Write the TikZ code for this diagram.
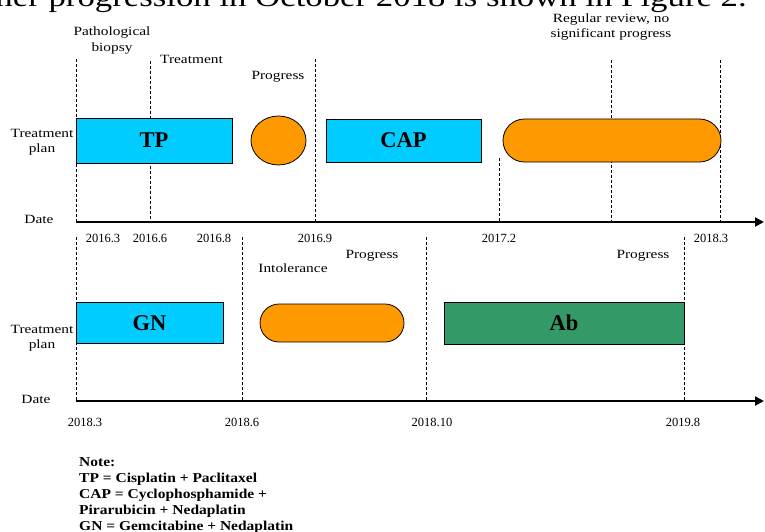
\documentclass[tikz,border=0pt]{standalone}
\usepackage{fontspec}
\setmainfont{Liberation Serif}
\newfontfamily\wideserif[FakeStretch=1.22]{Liberation Serif}
\newfontfamily\noteserif[FakeStretch=1.14]{Liberation Serif}
\usetikzlibrary{arrows.meta,shapes.geometric}
\definecolor{planblue}{HTML}{00CCFF}
\definecolor{planorange}{HTML}{FF9900}
\definecolor{plangreen}{HTML}{339966}
\begin{document}
\begin{tikzpicture}[x=1pt,y=-1pt,
	lbl/.style={inner sep=0pt,align=center,font=\wideserif\fontsize{12.6}{15.5}\selectfont},
	datelbl/.style={inner sep=0pt,anchor=base,font=\fontsize{12.5}{14}\selectfont},
	notelbl/.style={inner sep=0pt,anchor=base west,font=\noteserif\bfseries\fontsize{13.6}{16}\selectfont},
	plan/.style={draw,line width=0.8pt,inner sep=0pt,font=\bfseries\fontsize{22.5}{24}\selectfont},
	guide/.style={line width=0.7pt,dash pattern=on 3pt off 2pt},
	axis/.style={line width=2pt,-{Triangle[length=9pt,width=9pt]}}]
	\useasboundingbox (0,0) rectangle (765,532);
	
	%text line cut off at the top
	\node[inner sep=0pt,anchor=base east,font=\wideserif\fontsize{28.5}{30}\selectfont] (caption) at (747,7) {further progression in October 2018 is shown in Figure 2.};
	
	%guide lines, first period
	\foreach \x/\y in {76/59,150/61,315/59,499/158,611/60,720/60}
	\draw[guide] (\x,\y) -- (\x,221);
	%guide lines, second period
	\foreach \x in {76,242,426,684}
	\draw[guide] (\x,237) -- (\x,400);
	
	%time axes
	\coordinate (axtopstart) at (76,222);
	\coordinate (axtopend) at (764,222);
	\draw[axis] (axtopstart) -- (axtopend);
	\coordinate (axbotstart) at (76,401);
	\coordinate (axbotend) at (764,401);
	\draw[axis] (axbotstart) -- (axbotend);
	
	%first period
	\node[lbl] (rowtop) at (42,142) {Treatment\\plan};
	\node[lbl,anchor=base] (datetop) at (39,223) {Date};
	\node[lbl] (biopsy) at (112,40.5) {Pathological\\biopsy};
	\node[lbl,anchor=base] (treatment) at (191.5,64) {Treatment};
	\node[lbl,anchor=base] (progone) at (278,80) {Progress};
	\node[lbl] (review) at (611,27) {Regular review, no\\significant progress};
	
	\node[plan,fill=planblue,minimum width=156pt,minimum height=45pt] (tp) at (154,140.5) {TP};
	\node[plan,ellipse,fill=planorange,minimum width=55pt,minimum height=49pt] (pause) at (278.5,140.5) {};
	\node[plan,fill=planblue,minimum width=155pt,minimum height=43pt] (cap) at (403.5,140.5) {CAP};
	\node[plan,fill=planorange,rounded corners=21.5pt,minimum width=218pt,minimum height=43pt] (follow) at (612,140.5) {};
	
	\foreach \x/\d [count=\i] in {103/2016.3,150/2016.6,214/2016.8,315/2016.9,499/2017.2,711/2018.3}
	\node[datelbl] (datetop\i) at (\x,242) {\d};
	
	%second period
	\node[lbl] (rowbot) at (42,338) {Treatment\\plan};
	\node[lbl,anchor=base] (datebot) at (36,403) {Date};
	\node[lbl,anchor=base] (intolerance) at (293,272) {Intolerance};
	\node[lbl,anchor=base] (progtwo) at (372,258) {Progress};
	\node[lbl,anchor=base] (progthree) at (643,258) {Progress};
	
	\node[plan,fill=planblue,minimum width=147pt,minimum height=41pt] (gn) at (149.5,323) {GN};
	\node[plan,fill=planorange,rounded corners=19pt,minimum width=144pt,minimum height=38pt] (rest) at (332,323) {};
	\node[plan,fill=plangreen,minimum width=240pt,minimum height=42pt] (ab) at (564,323) {Ab};
	
	\foreach \x/\d [count=\i] in {85/2018.3,242/2018.6,432/2018.10,683/2019.8}
	\node[datelbl] (datebot\i) at (\x,426) {\d};
	
	%note
	\foreach \t [count=\i from 0] in {Note:,TP = Cisplatin + Paclitaxel,CAP = Cyclophosphamide +,Pirarubicin + Nedaplatin,GN = Gemcitabine + Nedaplatin}
	\node[notelbl] (note\i) at (79,466+16*\i) {\t};
\end{tikzpicture}
\end{document}
